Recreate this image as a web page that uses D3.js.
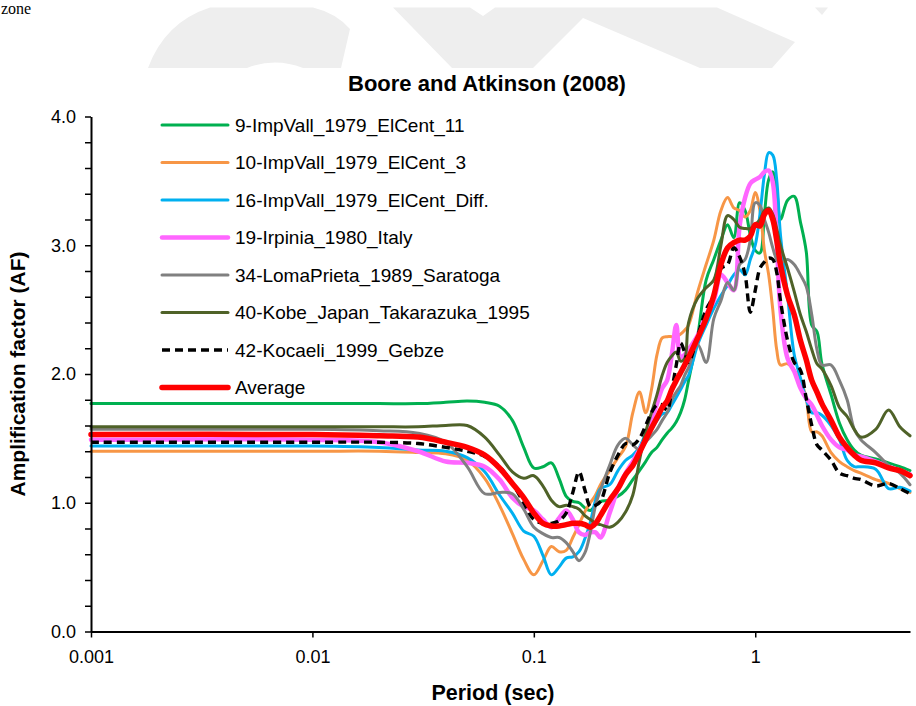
<!DOCTYPE html>
<html>
<head>
<meta charset="utf-8">
<script src="https://cdn.jsdelivr.net/npm/d3@7"></script>
<style>
  body { margin: 0; background: #fff; }
  svg { display: block; font-family: "Liberation Sans", Arial, sans-serif; }
</style>
</head>
<body>
<div id="chart"></div>
<script>
// spectral periods (sec), shared by all records
var periods = [0.001, 0.01, 0.02, 0.03, 0.04, 0.05, 0.06, 0.07, 0.08, 0.09,
  0.1, 0.11, 0.12, 0.13, 0.14, 0.15, 0.16, 0.17, 0.18, 0.19,
  0.2, 0.22, 0.24, 0.26, 0.28, 0.3, 0.32, 0.34, 0.36, 0.38,
  0.4, 0.42, 0.44, 0.46, 0.48, 0.5, 0.55, 0.6, 0.65, 0.7,
  0.75, 0.8, 0.85, 0.9, 0.95, 1.0, 1.05, 1.1, 1.15, 1.2,
  1.25, 1.3, 1.4, 1.5, 1.6, 1.7, 1.8, 1.9, 2.0, 2.2,
  2.4, 2.6, 2.8, 3.0, 3.5, 4.0, 4.5, 5.0];

var impVall11 = [1.77, 1.77, 1.77, 1.77, 1.78, 1.79, 1.78, 1.75, 1.64, 1.43,
  1.27, 1.28, 1.31, 1.19, 1.05, 1.01, 1.00, 0.96, 0.94, 0.98,
  1.01, 1.02, 1.05, 1.10, 1.18, 1.25, 1.32, 1.39, 1.43, 1.49,
  1.54, 1.58, 1.63, 1.70, 1.80, 1.95, 2.30, 2.73, 2.89, 3.04,
  3.16, 3.06, 3.33, 3.27, 3.08, 2.96, 2.94, 3.24, 3.51, 3.57,
  3.43, 3.20, 3.35, 3.38, 3.18, 2.95, 2.38, 2.33, 2.08, 1.84,
  1.62, 1.49, 1.41, 1.37, 1.34, 1.31, 1.28, 1.25];

var impVall3 = [1.40, 1.40, 1.40, 1.39, 1.38, 1.33, 1.19, 0.98, 0.76, 0.56,
  0.44, 0.55, 0.66, 0.62, 0.63, 0.73, 0.83, 0.93, 1.00, 1.06,
  1.14, 1.25, 1.35, 1.44, 1.70, 1.86, 1.70, 1.88, 2.15, 2.28,
  2.29, 2.29, 2.29, 2.31, 2.34, 2.38, 2.64, 2.85, 3.04, 3.27,
  3.37, 3.29, 3.27, 3.22, 3.27, 3.41, 3.27, 2.96, 2.77, 2.50,
  2.19, 2.07, 2.08, 2.03, 1.95, 1.81, 1.55, 1.55, 1.52, 1.39,
  1.32, 1.28, 1.25, 1.23, 1.18, 1.15, 1.11, 1.08];

var impVallDiff = [1.44, 1.44, 1.43, 1.41, 1.40, 1.35, 1.24, 1.06, 0.92, 0.78,
  0.74, 0.59, 0.44, 0.50, 0.57, 0.58, 0.62, 0.72, 0.85, 1.02,
  1.11, 1.14, 1.25, 1.33, 1.37, 1.43, 1.53, 1.57, 1.64, 1.69,
  1.70, 1.76, 1.82, 1.88, 1.94, 1.99, 2.23, 2.38, 2.51, 2.61,
  2.69, 2.77, 2.81, 2.77, 2.89, 3.00, 3.24, 3.55, 3.72, 3.70,
  3.51, 3.08, 2.61, 2.15, 1.97, 1.80, 1.70, 1.70, 1.68, 1.60,
  1.49, 1.33, 1.28, 1.28, 1.26, 1.11, 1.12, 1.09];

var irpinia = [1.49, 1.49, 1.47, 1.40, 1.32, 1.31, 1.28, 1.18, 1.04, 0.97,
  0.94, 0.87, 0.81, 0.88, 0.94, 0.87, 0.77, 0.75, 0.77, 0.77,
  0.73, 0.92, 1.11, 1.23, 1.32, 1.41, 1.50, 1.64, 1.77, 1.89,
  1.95, 2.15, 2.38, 2.13, 2.15, 2.19, 2.30, 2.46, 2.57, 2.77,
  2.71, 2.65, 3.15, 3.37, 3.48, 3.51, 3.53, 3.57, 3.58, 3.49,
  3.04, 2.50, 2.12, 2.02, 1.89, 1.81, 1.76, 1.68, 1.60, 1.49,
  1.43, 1.41, 1.37, 1.36, 1.32, 1.28, 1.25, 1.22];

var lomaPrieta = [1.57, 1.57, 1.56, 1.54, 1.47, 1.28, 1.07, 1.08, 1.07, 0.95,
  0.81, 0.76, 0.73, 0.73, 0.69, 0.62, 0.55, 0.61, 0.77, 0.98,
  1.10, 1.29, 1.45, 1.50, 1.45, 1.41, 1.47, 1.52, 1.57, 1.64,
  1.70, 1.80, 1.86, 1.91, 1.99, 2.05, 2.23, 2.09, 2.43, 2.57,
  2.71, 2.65, 2.85, 2.89, 3.04, 3.33, 3.31, 3.20, 3.10, 2.98,
  2.89, 2.86, 2.89, 2.85, 2.77, 2.68, 2.46, 2.19, 2.07, 2.07,
  1.95, 1.80, 1.57, 1.49, 1.39, 1.29, 1.23, 1.14];

var kobe = [1.59, 1.59, 1.59, 1.59, 1.60, 1.60, 1.51, 1.37, 1.24, 1.19,
  1.21, 1.13, 1.02, 0.97, 0.98, 0.97, 0.95, 0.90, 0.87, 0.84,
  0.83, 0.81, 0.85, 0.93, 1.06, 1.33, 1.55, 1.70, 1.84, 1.99,
  2.09, 2.14, 2.17, 2.10, 2.12, 2.40, 2.59, 2.67, 2.73, 3.00,
  3.23, 3.20, 3.14, 3.13, 3.13, 3.16, 3.20, 3.27, 3.29, 3.24,
  3.13, 3.00, 2.82, 2.64, 2.46, 2.33, 2.19, 2.08, 2.04, 1.91,
  1.74, 1.67, 1.57, 1.51, 1.57, 1.72, 1.59, 1.52];

var kocaeli = [1.47, 1.47, 1.47, 1.46, 1.43, 1.40, 1.36, 1.28, 1.15, 1.00,
  0.87, 0.84, 0.84, 0.86, 0.92, 1.08, 1.24, 1.10, 0.97, 0.98,
  1.01, 1.23, 1.37, 1.46, 1.45, 1.50, 1.60, 1.70, 1.76, 1.76,
  1.72, 1.88, 2.07, 2.24, 2.17, 2.09, 2.30, 2.50, 2.61, 2.82,
  2.85, 2.98, 2.91, 2.77, 2.48, 2.65, 2.82, 2.87, 2.90, 2.89,
  2.79, 2.57, 2.26, 2.09, 2.03, 1.81, 1.60, 1.45, 1.41, 1.33,
  1.23, 1.21, 1.19, 1.18, 1.13, 1.15, 1.11, 1.07];

var average = [1.53, 1.53, 1.52, 1.51, 1.47, 1.43, 1.37, 1.27, 1.15, 1.04,
  0.92, 0.84, 0.82, 0.82, 0.83, 0.84, 0.84, 0.83, 0.81, 0.84,
  0.90, 1.02, 1.11, 1.22, 1.29, 1.39, 1.49, 1.58, 1.66, 1.74,
  1.79, 1.88, 1.95, 2.01, 2.07, 2.13, 2.28, 2.43, 2.61, 2.85,
  2.98, 3.02, 3.04, 3.04, 3.07, 3.16, 3.15, 3.24, 3.27, 3.20,
  3.04, 2.85, 2.61, 2.46, 2.26, 2.11, 1.95, 1.86, 1.77, 1.64,
  1.51, 1.43, 1.37, 1.33, 1.31, 1.27, 1.25, 1.21];

var seriesNames = ["9-ImpVall_1979_ElCent_11", "10-ImpVall_1979_ElCent_3",
  "16-ImpVall_1979_ElCent_Diff.", "19-Irpinia_1980_Italy", "34-LomaPrieta_1989_Saratoga",
  "40-Kobe_Japan_Takarazuka_1995", "42-Kocaeli_1999_Gebze", "Average"];
var seriesValues = [impVall11, impVall3, impVallDiff, irpinia, lomaPrieta, kobe, kocaeli, average];
var seriesColors = ["#00b050", "#f79646", "#00b0f0", "#ff66ff", "#808080", "#4f6228", "#000000", "#ff0000"];
var seriesWidths = [3, 3, 3, 4.5, 3, 3, 3.4, 5.5];

var xTicks = [0.001, 0.01, 0.1, 1];
var yMajor = [0, 1, 2, 3, 4];

var width = 916, height = 706;
var svg = d3.select("#chart").append("svg")
  .attr("width", width)
  .attr("height", height);

// faint watermark left over from the source page
var wm = svg.append("g").attr("fill", "#eeeeee");
wm.append("path").attr("d", "M148,68 Q165,22 210,7.5 L313,7.5 Q336,13 350,29 L341,68 L303,68 Q275,57 247,68 Z");
wm.append("path").attr("d", "M393,7.5 L470,7.5 L483,16 L495,7.5 L717,7.5 L795,42 L772,68 L700,68 L583,18 L533,68 L452,68 Z");
wm.append("path").attr("d", "M815,7.5 L828,7.5 L822,15 Z");

svg.append("text")
  .attr("x", 1).attr("y", 14)
  .style("font-family", "'Liberation Serif', 'Times New Roman', serif")
  .style("font-size", "16px")
  .text("zone");

var x = d3.scaleLog().domain([0.001, 5]).range([91, 910]);
var y = d3.scaleLinear().domain([0, 4]).range([631.5, 116.5]);

// lines
var line = d3.line()
  .x(function(d) { return x(d[0]); })
  .y(function(d) { return y(d[1]); })
  .curve(d3.curveCatmullRom.alpha(0.5));

seriesValues.forEach(function(vals, i) {
  var pts = periods.map(function(p, j) { return [p, vals[j]]; });
  svg.append("path")
    .datum(pts)
    .attr("d", line)
    .attr("fill", "none")
    .attr("stroke", seriesColors[i])
    .attr("stroke-width", seriesWidths[i])
    .attr("stroke-linejoin", "round")
    .attr("stroke-linecap", i == 6 ? "butt" : "round")
    .attr("stroke-dasharray", i == 6 ? "8,5" : null);
});

// axes
var yAxis = d3.axisLeft(y)
  .tickValues(d3.range(0, 21).map(function(k) { return k / 5; }))
  .tickSize(6)
  .tickSizeOuter(0)
  .tickPadding(9)
  .tickFormat(function(d) {
    return yMajor.indexOf(Math.round(d * 5) / 5) >= 0 && Math.abs(d - Math.round(d)) < 1e-6 ? d3.format(".1f")(d) : "";
  });

var xAxis = d3.axisBottom(x)
  .tickValues(xTicks)
  .tickSize(6)
  .tickSizeOuter(0)
  .tickPadding(13)
  .tickFormat(function(d) { return String(d); });

var gy = svg.append("g").attr("transform", "translate(91,0)").call(yAxis);
var gx = svg.append("g").attr("transform", "translate(0,631.5)").call(xAxis);

[gx, gy].forEach(function(g) {
  g.select(".domain").attr("stroke", "#000").attr("stroke-width", 2);
  g.selectAll(".tick line").attr("stroke", "#000").attr("stroke-width", 1.5);
  g.selectAll(".tick text")
    .attr("fill", "#000")
    .style("font-family", "'Liberation Sans', Arial, sans-serif")
    .style("font-size", "18px");
});

// titles
svg.append("text")
  .attr("x", 487).attr("y", 91)
  .attr("text-anchor", "middle")
  .style("font-weight", "bold").style("font-size", "22px")
  .text("Boore and Atkinson (2008)");

svg.append("text")
  .attr("x", 493).attr("y", 700)
  .attr("text-anchor", "middle")
  .style("font-weight", "bold").style("font-size", "21.5px")
  .text("Period (sec)");

svg.append("text")
  .attr("transform", "translate(25,374)rotate(-90)")
  .attr("text-anchor", "middle")
  .style("font-weight", "bold").style("font-size", "21px")
  .text("Amplification factor (AF)");

// legend
var legend = svg.append("g");
seriesNames.forEach(function(name, i) {
  var cy = 125 + i * 37.5;
  legend.append("line")
    .attr("x1", 162).attr("x2", 228)
    .attr("y1", cy).attr("y2", cy)
    .attr("stroke", seriesColors[i])
    .attr("stroke-width", seriesWidths[i])
    .attr("stroke-linecap", i == 6 ? "butt" : "round")
    .attr("stroke-dasharray", i == 6 ? "8,5" : null);
  legend.append("text")
    .attr("x", 235).attr("y", cy + 6.5)
    .style("font-size", "19px")
    .text(name);
});
</script>
</body>
</html>
